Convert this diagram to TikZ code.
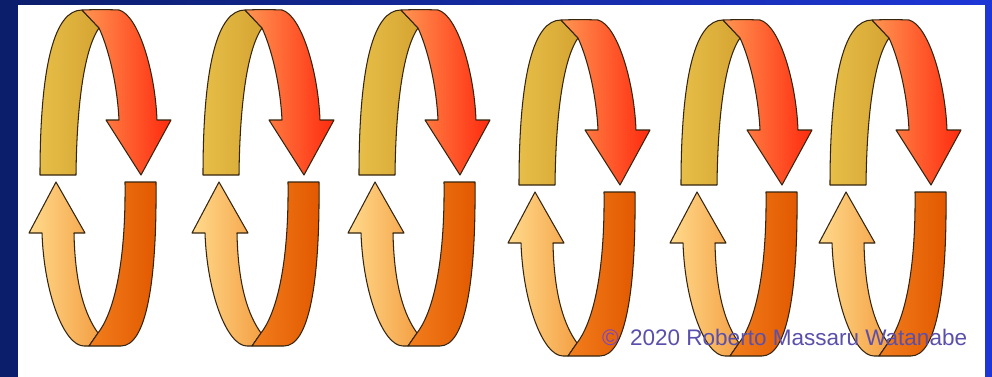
\documentclass[tikz,border=0pt]{standalone}
\usepackage{fontspec}
\setmainfont{Liberation Sans}

\definecolor{navy}{HTML}{0B1E6B}
\definecolor{royal}{HTML}{1E36D6}
\definecolor{goldL}{HTML}{E6BE48}
\definecolor{goldR}{HTML}{D6A432}
\definecolor{redL}{HTML}{FF9652}
\definecolor{redR}{HTML}{FF2A0E}
\definecolor{paleL}{HTML}{FFDA8C}
\definecolor{paleR}{HTML}{F4A044}
\definecolor{rustL}{HTML}{F27E1C}
\definecolor{rustR}{HTML}{E25800}
\definecolor{rim}{HTML}{35250F}
\definecolor{credit}{HTML}{5A50AC}
\definecolor{copymark}{HTML}{7A48C0}

\tikzset{
  band/.style={draw=rim, line width=1.05pt, line join=round},
  backband/.style={band, left color=goldL, right color=goldR},
  frontband/.style={band, left color=redL, right color=redR},
  paleband/.style={band, left color=paleL, right color=paleR},
  rustband/.style={band, left color=rustL, right color=rustR},
  creditstyle/.style={inner sep=0pt, anchor=base west, font=\fontsize{22.5}{27}\selectfont},
  % one pair of twisted ribbon arrows; origin = lower left corner of the upper ribbon
  cyclepair/.pic={
    % upper arrow: back face of the ribbon, then the front face with its head
    \path[backband] (0,0) .. controls (0,-112) and (15,-165) .. (42,-165)
      -- (59,-147) .. controls (47,-130) and (37,-85) .. (36,0) -- cycle;
    \path[frontband] (42,-165) .. controls (55,-165.5) and (68,-165.5) .. (79,-165)
      .. controls (98,-160) and (115,-105) .. (117,-55)
      -- (131,-55) -- (101,0) -- (66,-55) -- (79,-55)
      .. controls (77,-95) and (67,-130) .. (59,-147) -- cycle;
    % lower arrow: rising pale face with its head, then the dark face
    \path[paleband] (16,7) -- (45,58) -- (34,58)
      .. controls (35,110) and (45,140) .. (58,158) -- (49,171) -- (44,171)
      .. controls (24,171) and (4,118) .. (2,58) -- (-11,58) -- cycle;
    \path[rustband] (85,7) -- (116,7)
      .. controls (117,108) and (106,171) .. (81,171) -- (49,171) -- (58,158)
      .. controls (72,140) and (86,95) .. (85,7) -- cycle;
  }
}

\begin{document}
\begin{tikzpicture}[x=1pt, y=-1pt]
  \useasboundingbox (0,0) rectangle (992,377);
  % blue frame and white panel
  \fill[left color=navy, right color=royal] (0,0) rectangle (992,377);
  \fill[white] (18,5) rectangle (985,377);

  % six pairs of arrows
  \foreach \px/\py in {40/175, 203/175, 359/175, 519/185, 681/185, 830/185}
    \pic at (\px,\py) {cyclepair};

  % credit line
  \node[creditstyle, text=copymark] (copy) at (602,345) {©};
  \node[creditstyle, text=credit] (credit) at (630,345) {2020 Roberto Massaru Watanabe};
\end{tikzpicture}
\end{document}
